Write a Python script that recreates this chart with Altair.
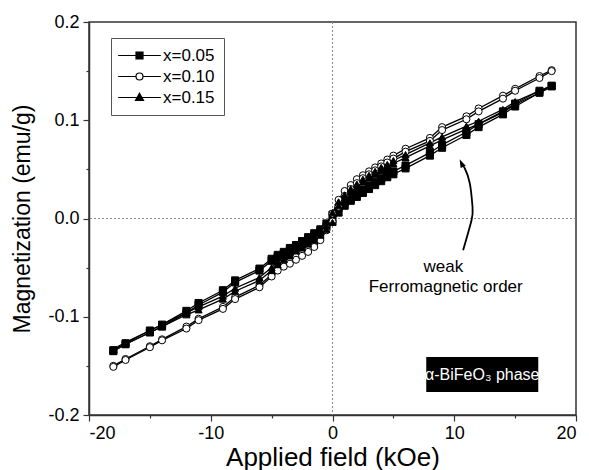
import altair as alt
import pandas as pd

SERIES = ["x=0.05", "x=0.10", "x=0.15"]

H_DOWN = [18, 17, 15, 14, 12, 11, 9, 8, 6, 5, 4.5, 4, 3.5, 3, 2.5, 2, 1.5, 1, 0.5, 0,
          -0.5, -1, -1.5, -2, -2.5, -3, -3.5, -4, -4.5, -5, -6, -8, -9, -11, -12, -14, -15, -17, -18]
H_UP = [-18, -17, -15, -14, -12, -11, -9, -8, -6, -5, -4.5, -4, -3.5, -3, -2.5, -2, -1.5, -1, -0.5, 0,
        0.5, 1, 1.5, 2, 2.5, 3, 3.5, 4, 4.5, 5, 6, 8, 9, 11, 12, 14, 15, 17, 18]

M05_DOWN = [0.135, 0.130, 0.117, 0.109, 0.096, 0.088, 0.075, 0.067, 0.054, 0.048, 0.045, 0.041, 0.037,
            0.033, 0.029, 0.025, 0.020, 0.016, 0.011, 0.004, -0.005, -0.011, -0.015, -0.019, -0.023,
            -0.027, -0.030, -0.034, -0.037, -0.041, -0.051, -0.063, -0.073, -0.086, -0.094, -0.108,
            -0.114, -0.127, -0.134]
M05_UP = [-0.135, -0.128, -0.116, -0.110, -0.096, -0.088, -0.075, -0.065, -0.053, -0.043, -0.039,
          -0.036, -0.032, -0.029, -0.025, -0.021, -0.017, -0.013, -0.008, -0.003, 0.006, 0.013, 0.018,
          0.022, 0.026, 0.030, 0.034, 0.038, 0.042, 0.045, 0.051, 0.064, 0.072, 0.085, 0.093, 0.106,
          0.114, 0.128, 0.135]

M10_DOWN = [0.151, 0.145, 0.132, 0.125, 0.112, 0.104, 0.093, 0.082, 0.071, 0.064, 0.060, 0.056, 0.052,
            0.048, 0.044, 0.040, 0.034, 0.028, 0.019, 0.005, -0.009, -0.019, -0.026, -0.032, -0.036,
            -0.039, -0.044, -0.047, -0.051, -0.057, -0.068, -0.080, -0.090, -0.102, -0.110, -0.123,
            -0.130, -0.143, -0.150]
M10_UP = [-0.151, -0.144, -0.131, -0.124, -0.112, -0.1035, -0.092, -0.082, -0.070, -0.059, -0.053,
          -0.049, -0.046, -0.042, -0.038, -0.034, -0.029, -0.022, -0.012, -0.003, 0.012, 0.023, 0.030,
          0.036, 0.041, 0.045, 0.049, 0.053, 0.057, 0.061, 0.068, 0.079, 0.090, 0.101, 0.109, 0.122,
          0.130, 0.143, 0.150]

M15_DOWN = [0.135, 0.130, 0.119, 0.111, 0.099, 0.094, 0.083, 0.077, 0.065, 0.059, 0.055, 0.052, 0.048,
            0.044, 0.040, 0.035, 0.030, 0.024, 0.017, 0.006, -0.007, -0.014, -0.019, -0.023, -0.027,
            -0.030, -0.035, -0.039, -0.044, -0.050, -0.060, -0.071, -0.079, -0.090, -0.096, -0.108,
            -0.114, -0.126, -0.133]
M15_UP = [-0.135, -0.128, -0.116, -0.110, -0.098, -0.093, -0.082, -0.074, -0.063, -0.053, -0.047,
          -0.042, -0.038, -0.033, -0.030, -0.026, -0.022, -0.017, -0.011, -0.004, 0.013, 0.021, 0.027,
          0.032, 0.037, 0.041, 0.045, 0.049, 0.052, 0.056, 0.062, 0.074, 0.080, 0.091, 0.096, 0.108,
          0.116, 0.128, 0.134]

X_TICKS = [-20, -15, -10, -5, 0, 5, 10, 15, 20]
Y_TICKS = [-0.2, -0.15, -0.1, -0.05, 0.0, 0.05, 0.1, 0.15, 0.2]

ANNOT_TEXT = ["weak", "Ferromagnetic order"]
ANNOT_H = [9.1, 9.3]
ANNOT_M = [-0.0543, -0.0747]

ARROW_H = [10.73, 11.42, 11.5, 11.28, 10.87, 10.7]
ARROW_M = [-0.0322, -0.0017, 0.0118, 0.0356, 0.0509, 0.0535]
HEAD_H = [10.62]
HEAD_M = [0.0555]

BOX_H = [7.7]
BOX_H2 = [16.9]
BOX_M = [-0.141]
BOX_M2 = [-0.1765]
BOX_TEXT = ["\u03b1-BiFeO\u2083 phase"]
BOX_TEXT_H = [12.3]
BOX_TEXT_M = [-0.159]

LEGEND_PATHS = [
    "M-6.1,0H6.1M-1,-1H1V1H-1Z",
    "M-6.1,0H-1M1,0H6.1M1,0A1,1,0,1,1,-1,0A1,1,0,1,1,1,0Z",
    "M-6.1,0H6.1M0,-1.2L1.15,0.85H-1.15Z",
]

rows = []
branches = [
    (SERIES[0], M05_DOWN, M05_UP),
    (SERIES[1], M10_DOWN, M10_UP),
    (SERIES[2], M15_DOWN, M15_UP),
]
for s, mdown, mup in branches:
    for i, (h, m) in enumerate(zip(H_DOWN, mdown)):
        rows.append({"series": s, "key": s + "d", "order": i, "H": h, "M": m})
    for i, (h, m) in enumerate(zip(H_UP, mup)):
        rows.append({"series": s, "key": s + "u", "order": i, "H": h, "M": m})
df = pd.DataFrame(rows)

FONT = "Liberation Sans"
xs = alt.Scale(domain=[-20, 20], nice=False, zero=False)
ys = alt.Scale(domain=[-0.2, 0.2], nice=False, zero=False)

x_axis = alt.Axis(
    values=X_TICKS, title="Applied field (kOe)", grid=False,
    labelExpr="datum.value % 10 === 0 ? (datum.value < 0 ? '-' : '') + format(abs(datum.value), 'd') : ''",
    tickSize={"condition": {"test": "datum.value % 10 === 0", "value": 6}, "value": 3},
    labelOverlap=False, labelPadding=3, labelFontSize=18, labelFont=FONT, labelColor="black",
    titleFont=FONT, titleFontSize=26, titleFontWeight="normal", titleColor="black",
    titleX=243.5, titleY=55, titleBaseline="bottom",
    domainColor="#333", domainWidth=1.5, tickColor="#333", tickWidth=1.2,
)
y_axis = alt.Axis(
    values=Y_TICKS, title="Magnetization (emu/g)", grid=False,
    labelExpr="abs(datum.value*10 - round(datum.value*10)) < 0.001 ? (datum.value < 0 ? '-' : '') + format(abs(datum.value), '.1f') : ''",
    tickSize={"condition": {"test": "abs(datum.value*10 - round(datum.value*10)) < 0.001", "value": 6}, "value": 3},
    labelOverlap=False, labelPadding=4, labelFontSize=18, labelFont=FONT, labelColor="black",
    titleFont=FONT, titleFontSize=23, titleFontWeight="normal", titleColor="black",
    titleX=-67, titleY=196.5, titleBaseline="middle",
    domainColor="#333", domainWidth=1.5, tickColor="#333", tickWidth=1.2,
)


def X(field):
    return alt.X(field, scale=xs, axis=x_axis)


def Y(field):
    return alt.Y(field, scale=ys, axis=y_axis)


base = alt.Chart(df)

zero_v = base.mark_rule(color="#888", strokeDash=[2, 2], strokeWidth=1).encode(
    x=alt.XDatum(0, scale=xs, axis=x_axis))
zero_h = base.mark_rule(color="#888", strokeDash=[2, 2], strokeWidth=1).encode(
    y=alt.YDatum(0, scale=ys, axis=y_axis))

lines = base.mark_line(color="black", strokeWidth=1.3).encode(
    x=X("H:Q"), y=Y("M:Q"), detail="key:N", order="order:Q",
)

points = base.mark_point(stroke="black", strokeWidth=1, opacity=1, size=50).encode(
    x=X("H:Q"), y=Y("M:Q"),
    shape=alt.Shape("series:N", scale=alt.Scale(domain=SERIES, range=["square", "circle", "triangle-up"]), legend=None),
    fill=alt.Fill("series:N", scale=alt.Scale(domain=SERIES, range=["black", "white", "black"]), legend=None),
)

leg = alt.Legend(
    title=None, orient="none", legendX=22, legendY=16,
    labelFont=FONT, labelFontSize=17, labelColor="black",
    symbolSize=49, symbolOffset=11, labelOffset=15,
    symbolStrokeWidth=1.2, symbolOpacity=1,
    strokeColor="#555", fillColor="white", padding=9, rowPadding=3,
)
legend_layer = base.transform_filter("false").mark_point(opacity=1).encode(
    x=X("H:Q"), y=Y("M:Q"),
    shape=alt.Shape("series:N", scale=alt.Scale(domain=SERIES, range=LEGEND_PATHS), legend=leg),
    fill=alt.Fill("series:N", scale=alt.Scale(domain=SERIES, range=["black", "white", "black"]), legend=leg),
    stroke=alt.Stroke("series:N", scale=alt.Scale(domain=SERIES, range=["black", "black", "black"]), legend=leg),
)

annot_df = pd.DataFrame({"t": ANNOT_TEXT, "H": ANNOT_H, "M": ANNOT_M})
annot = alt.Chart(annot_df).mark_text(font=FONT, fontSize=17, color="black", baseline="alphabetic").encode(
    x=X("H:Q"), y=Y("M:Q"), text="t:N")

arrow_df = pd.DataFrame({"H": ARROW_H, "M": ARROW_M, "o": list(range(len(ARROW_H)))})
arrow = alt.Chart(arrow_df).mark_line(color="black", strokeWidth=1.8, interpolate="natural").encode(
    x=X("H:Q"), y=Y("M:Q"), order="o:Q")
head_df = pd.DataFrame({"H": HEAD_H, "M": HEAD_M})
head = alt.Chart(head_df).mark_point(
    shape="M0,-1.3L0.7,0.8H-0.7Z", filled=True, color="black", opacity=1, size=64, angle=335).encode(
    x=X("H:Q"), y=Y("M:Q"))

box_df = pd.DataFrame({"H": BOX_H, "H2": BOX_H2, "M": BOX_M, "M2": BOX_M2})
box = alt.Chart(box_df).mark_rect(color="black").encode(
    x=X("H:Q"), x2="H2:Q", y=Y("M:Q"), y2="M2:Q")
box_text_df = pd.DataFrame({"t": BOX_TEXT, "H": BOX_TEXT_H, "M": BOX_TEXT_M})
box_text = alt.Chart(box_text_df).mark_text(font=FONT, fontSize=16, color="white", baseline="middle").encode(
    x=X("H:Q"), y=Y("M:Q"), text="t:N")

chart = alt.layer(
    zero_v, zero_h, lines, points, legend_layer, annot, arrow, head, box, box_text
).resolve_scale(shape="independent", fill="independent", stroke="independent").properties(
    width=487, height=393,
    padding={"left": 81, "top": 14, "right": 5, "bottom": 55},
    autosize=alt.AutoSizeParams(type="none"),
).configure_view(stroke="#333", strokeWidth=1.5)

chart.save("out.html", embed_options={"renderer": "svg", "actions": False})
